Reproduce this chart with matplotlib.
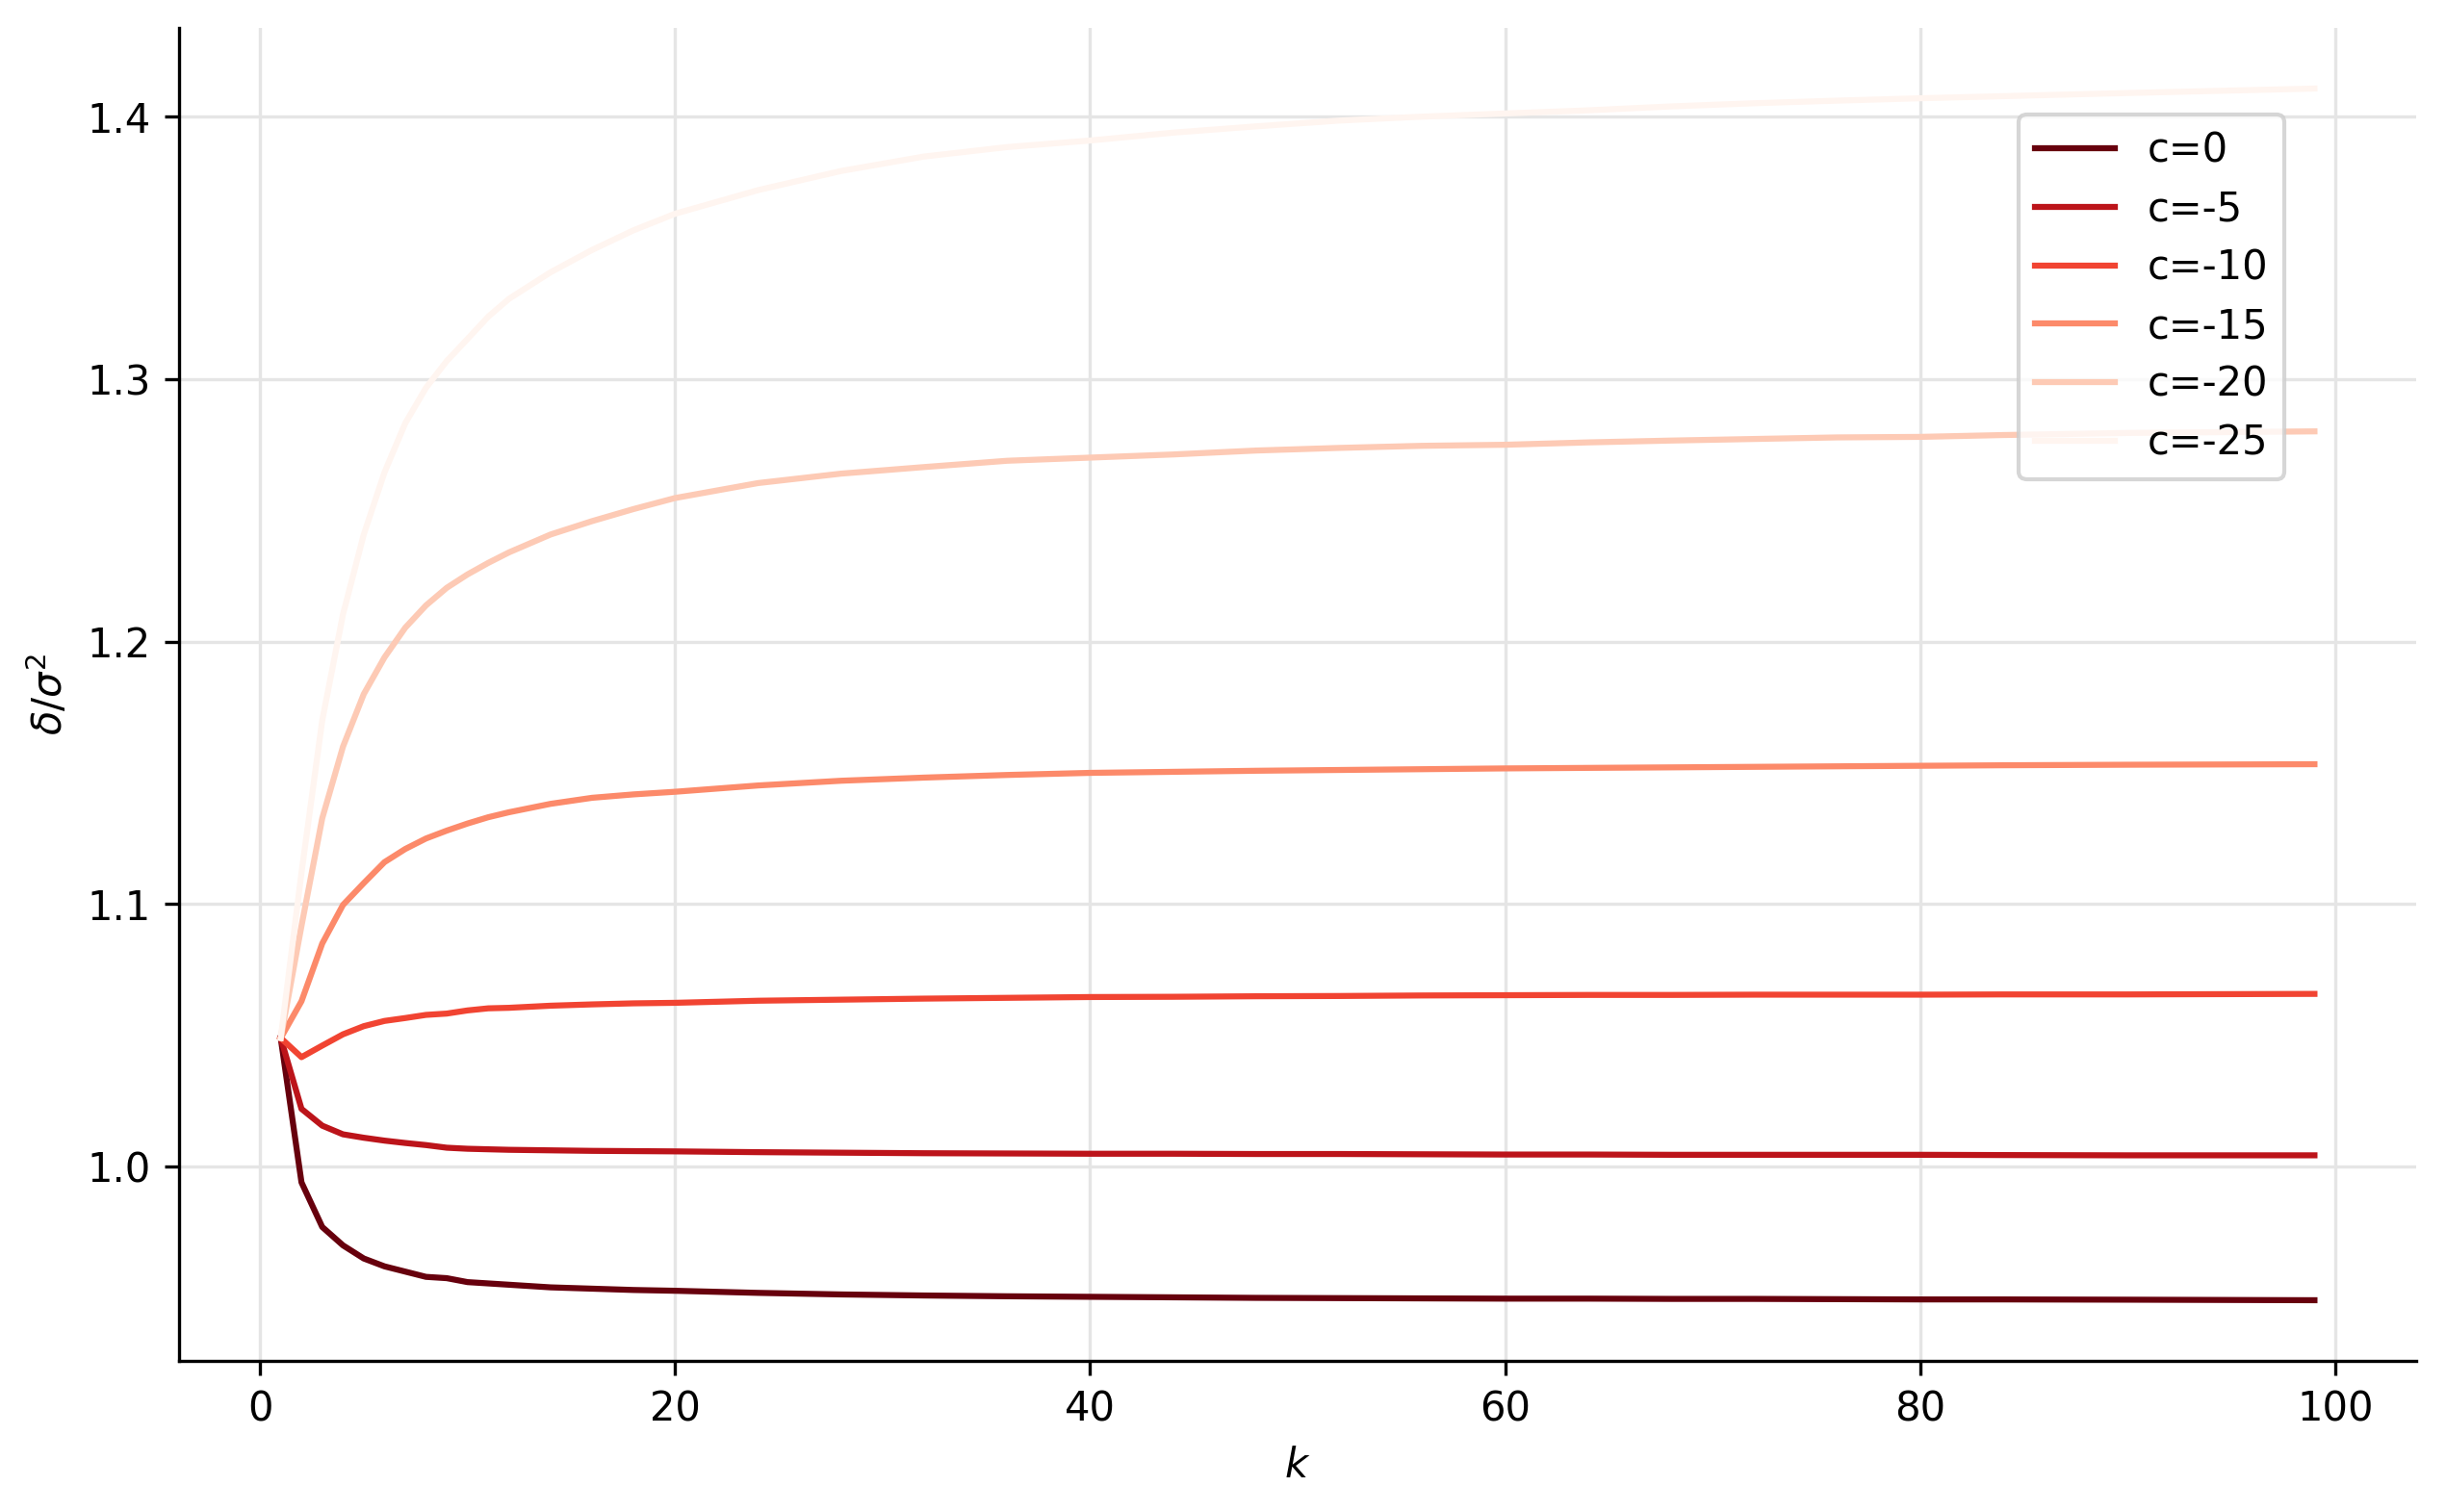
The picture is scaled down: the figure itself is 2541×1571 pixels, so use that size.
import numpy as np
import matplotlib
matplotlib.use('Agg')
import matplotlib.pyplot as plt

k = [1, 2, 3, 4, 5, 6, 7, 8, 9, 10, 11, 12, 14, 16, 18, 20, 24, 28, 32, 36, 40,
     44, 48, 52, 56, 60, 64, 68, 72, 76, 80, 84, 90, 99]

c_labels = ['c=0', 'c=-5', 'c=-10', 'c=-15', 'c=-20', 'c=-25']

c0 = [1.049, 0.994, 0.977, 0.970, 0.965, 0.962, 0.960, 0.958, 0.9575, 0.956, 0.9555, 0.955,
      0.954, 0.9535, 0.953, 0.9527, 0.9519, 0.9513, 0.9509, 0.9506, 0.9504,
      0.9502, 0.9500, 0.9499, 0.9498, 0.9497, 0.9497, 0.9496, 0.9496, 0.9495, 0.9494, 0.9494, 0.9493, 0.9491]
c5 = [1.049, 1.022, 1.0156, 1.0123, 1.011, 1.0099, 1.009, 1.0082, 1.0072, 1.0068, 1.0066, 1.0064,
      1.0062, 1.006, 1.0059, 1.0058, 1.0055, 1.0053, 1.0051, 1.0050, 1.0049,
      1.0049, 1.0048, 1.0048, 1.0047, 1.0046, 1.0046, 1.0045, 1.0045, 1.0045, 1.0045, 1.0044, 1.0043, 1.0043]
c10 = [1.049, 1.0417, 1.0461, 1.0504, 1.0535, 1.0555, 1.0566, 1.0578, 1.0583, 1.0595, 1.0603, 1.0605,
       1.0613, 1.0618, 1.0622, 1.0624, 1.0632, 1.0636, 1.0640, 1.0643, 1.0646,
       1.0647, 1.0649, 1.0650, 1.0652, 1.0653, 1.0654, 1.0654, 1.0655, 1.0655, 1.0655, 1.0656, 1.0656, 1.0658]
c15 = [1.049, 1.063, 1.085, 1.0997, 1.108, 1.1160, 1.121, 1.125, 1.128, 1.1307, 1.1331, 1.135,
       1.1382, 1.1405, 1.1418, 1.1428, 1.1452, 1.147, 1.1482, 1.1492, 1.150,
       1.1504, 1.1508, 1.1511, 1.1514, 1.1517, 1.1519, 1.1521, 1.1523, 1.1525, 1.1527, 1.1529, 1.1531, 1.1533]
c20 = [1.049, 1.0917, 1.1327, 1.160, 1.180, 1.194, 1.2053, 1.2138, 1.2205, 1.2256, 1.2300, 1.234,
       1.2408, 1.2459, 1.2505, 1.2547, 1.2604, 1.2640, 1.2665, 1.2689, 1.2701,
       1.2713, 1.2728, 1.2738, 1.2746, 1.2750, 1.2759, 1.2766, 1.2772, 1.2778, 1.2780, 1.2787, 1.2795, 1.2801]
c25 = [1.049, 1.112, 1.170, 1.2104, 1.2408, 1.2645, 1.2832, 1.2967, 1.3069, 1.3153, 1.3238, 1.3306,
       1.3407, 1.3492, 1.3567, 1.3630, 1.3720, 1.3793, 1.3848, 1.3884, 1.3909,
       1.3939, 1.3963, 1.3985, 1.4000, 1.4012, 1.4024, 1.4039, 1.4051, 1.4061, 1.4070, 1.4078, 1.4090, 1.4107]

series = [c0, c5, c10, c15, c20, c25]
colors = plt.cm.Reds(np.linspace(1, 0, len(series)))

fig, ax = plt.subplots(figsize=(2541 / 300, 1571 / 300), dpi=300)
fig.subplots_adjust(left=0.0732, right=0.9878, top=0.9815, bottom=0.10)

for vals, lab, col in zip(series, c_labels, colors):
    ax.plot(k, vals, color=col, lw=1.5, label=lab)

ax.grid(True, color='#e5e5e5', lw=0.8)
ax.set_axisbelow(True)
ax.spines['top'].set_visible(False)
ax.spines['right'].set_visible(False)
ax.set_xlabel(r'$k$')
ax.set_ylabel(r'$\delta/\sigma^2$')
ax.legend(loc='upper right', bbox_to_anchor=(0.95, 0.95), labelspacing=0.45)

plt.savefig('out.png', dpi=300)
